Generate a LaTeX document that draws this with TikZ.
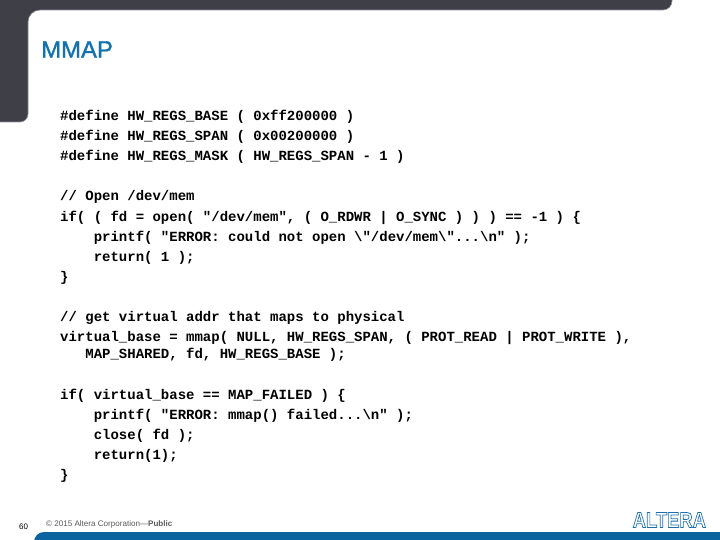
\documentclass[tikz,border=0pt]{standalone}
\usepackage{fontspec}
\setmainfont{Liberation Sans}
\newfontfamily\codefont{Liberation Mono}
\usetikzlibrary{positioning}
\definecolor{barcolor}{HTML}{3F4047}
\definecolor{baredge}{HTML}{8E8E94}
\definecolor{bandcolor}{HTML}{0B639F}
\definecolor{titlecolor}{HTML}{1172AE}
\definecolor{footcolor}{HTML}{5A5A5E}
\definecolor{logocolor}{HTML}{1B6FB0}
\tikzstyle{codeline} = [anchor=west, inner sep=0pt, text height=9bp, text depth=3bp, font=\codefont\bfseries\fontsize{14.05}{16}\selectfont]
\tikzstyle{topbar} = [fill=barcolor, draw=baredge, line width=0.6bp]
\tikzstyle{band} = [fill=bandcolor]
\newcommand{\bs}{\symbol{92}}

\begin{document}
\begin{tikzpicture}[x=1bp, y=-1bp]
\useasboundingbox (0,0) rectangle (720,540);

\draw [topbar] (-2,-2) -- (672,-2) [rounded corners=9bp] -- (672,10) [rounded corners=12bp] -- (28,10) [rounded corners=8bp] -- (28,122) [sharp corners] -- (-2,122) -- cycle;
\fill [band] (720,542) -- (34,542) [rounded corners=10bp] -- (34,532) [sharp corners] -- (720,532) -- cycle;

\node (title) [anchor=west, inner sep=0pt, text=titlecolor, font=\fontsize{24}{26}\selectfont] at (41,49.5) {\special{pdf:code 2 Tr 0.3 w}MMAP\special{pdf:code 0 Tr}};

\node (def1) [codeline] at (60,118) {\#define HW\_REGS\_BASE ( 0xff200000 )};
\node (def2) [below=20bp of def1.west, codeline] {\#define HW\_REGS\_SPAN ( 0x00200000 )};
\node (def3) [below=20bp of def2.west, codeline] {\#define HW\_REGS\_MASK ( HW\_REGS\_SPAN - 1 )};

\node (open1) [below=40bp of def3.west, codeline] {// Open /dev/mem};
\node (open2) [below=20bp of open1.west, codeline] {if( ( fd = open( "/dev/mem", ( O\_RDWR | O\_SYNC ) ) ) == -1 ) \{};
\node (open3) [below=20.5bp of open2.west, xshift=33.6bp, codeline] {printf( "ERROR: could not open \bs"/dev/mem\bs"...\bs n" );};
\node (open4) [below=20bp of open3.west, codeline] {return( 1 );};
\node (open5) [below=20bp of open4.west, xshift=-33.6bp, codeline] {\}};

\node (map1) [below=40bp of open5.west, codeline] {// get virtual addr that maps to physical};
\node (map2) [below=20bp of map1.west, codeline] {virtual\_base = mmap( NULL, HW\_REGS\_SPAN, ( PROT\_READ | PROT\_WRITE ),};
\node (map3) [below=17bp of map2.west, xshift=25.2bp, codeline] {MAP\_SHARED, fd, HW\_REGS\_BASE );};

\node (fail1) [below=41bp of map3.west, xshift=-25.2bp, codeline] {if( virtual\_base == MAP\_FAILED ) \{};
\node (fail2) [below=20bp of fail1.west, xshift=33.6bp, codeline] {printf( "ERROR: mmap() failed...\bs n" );};
\node (fail3) [below=20bp of fail2.west, codeline] {close( fd );};
\node (fail4) [below=20bp of fail3.west, codeline] {return(1);};
\node (fail5) [below=20bp of fail4.west, xshift=-33.6bp, codeline] {\}};

\node (page) [anchor=west, inner sep=0pt, font=\fontsize{8}{10}\selectfont] at (19,527) {60};
\node (copy) [anchor=west, inner sep=0pt, text=footcolor, font=\fontsize{8.1}{10}\selectfont] at (46,524.5) {© 2015 Altera Corporation—\textbf{Public}};
\node (logo) [anchor=west, inner sep=0pt, text=logocolor, font=\bfseries\fontsize{22}{22}\selectfont] at (632.5,520) {\scalebox{0.84}[1]{\special{pdf:code 1 Tr 0.8 w}ALTERA\special{pdf:code 0 Tr}}};

\end{tikzpicture}
\end{document}
